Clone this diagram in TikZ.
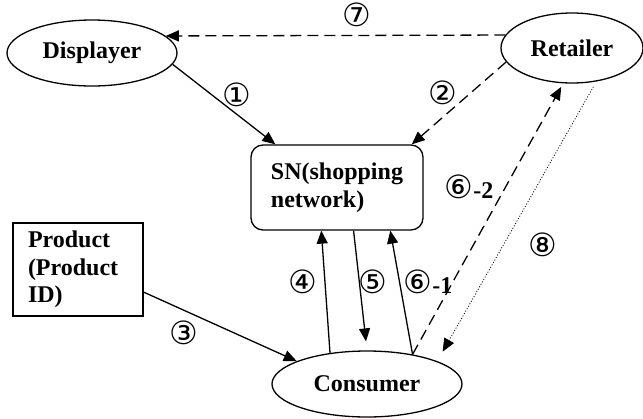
\documentclass[tikz,border=0pt]{standalone}
\usepackage{fontspec}
\setmainfont{Liberation Serif}
\newfontfamily\circfont{DejaVu Sans}
\usetikzlibrary{shapes.geometric,arrows.meta}
\newcommand\cnum[1]{{\circfont\mdseries\fontsize{32}{32}\selectfont #1}}
\begin{document}
\begin{tikzpicture}[x=1pt,y=-1pt,
  txt/.style={font=\fontsize{24}{27.5}\selectfont\bfseries},
  ell/.style={txt,draw,ellipse,line width=1.3pt,inner sep=0pt},
  boxnode/.style={txt,draw,rectangle,line width=1.3pt,inner sep=0pt,align=left},
  lbl/.style={txt,inner sep=0pt},
  conn/.style={line width=1.3pt,-{Triangle[length=13pt,width=11pt]}},
  dashedconn/.style={conn,dash pattern=on 11pt off 6pt},
  dottedconn/.style={line width=0.8pt,dash pattern=on 1pt off 1.8pt,-{Triangle[length=13pt,width=11pt]}},
]
\useasboundingbox (0,0) rectangle (643,418);
% nodes
\node[ell,minimum width=170pt,minimum height=66pt] (disp) at (92,53) {Displayer};
\node[ell,minimum width=142pt,minimum height=70pt] (ret) at (572,48) {Retailer};
\node[boxnode,rounded corners=12pt,minimum width=172pt,minimum height=85pt] (sn) at (337,187.5) {SN(shopping\\network)};
\node[boxnode,minimum width=130pt,minimum height=93pt,text width=100pt] (prod) at (78,269.5) {Product\\(Product\\ID)};
\node[ell,minimum width=190pt,minimum height=66pt] (cons) at (367,384) {Consumer};
% connectors
\draw[dashedconn] (ret.169) -- (disp.13);
\draw[conn] (disp.-8) -- (sn.145);
\draw[dashedconn] (ret.192) -- (sn.30);
\draw[conn] (prod.-19) -- (cons.162);
\draw[conn] (cons.140) -- (sn.250.6);
\draw[conn,shorten >=9pt] (sn.291.8) -- (cons.north);
\draw[conn] (cons.33) -- (sn.321.8);
\draw[dashedconn,shorten >=4pt] (cons.33) -- (ret.256);
\draw[dottedconn,shorten <=6pt,shorten >=11pt] (ret.-54) -- (cons.18.4);
% labels
\node[lbl] (l7) at (357,15) {\cnum{⑦}};
\node[lbl] (l1) at (237,95) {\cnum{①}};
\node[lbl] (l2) at (443,93) {\cnum{②}};
\node[lbl] (l62) at (469,187) {\cnum{⑥}-2};
\node[lbl] (l8) at (543,245) {\cnum{⑧}};
\node[lbl] (l3) at (184,333) {\cnum{③}};
\node[lbl] (l4) at (303,282) {\cnum{④}};
\node[lbl] (l5) at (373,282) {\cnum{⑤}};
\node[lbl] (l61) at (428,282) {\cnum{⑥}-1};
\end{tikzpicture}
\end{document}
